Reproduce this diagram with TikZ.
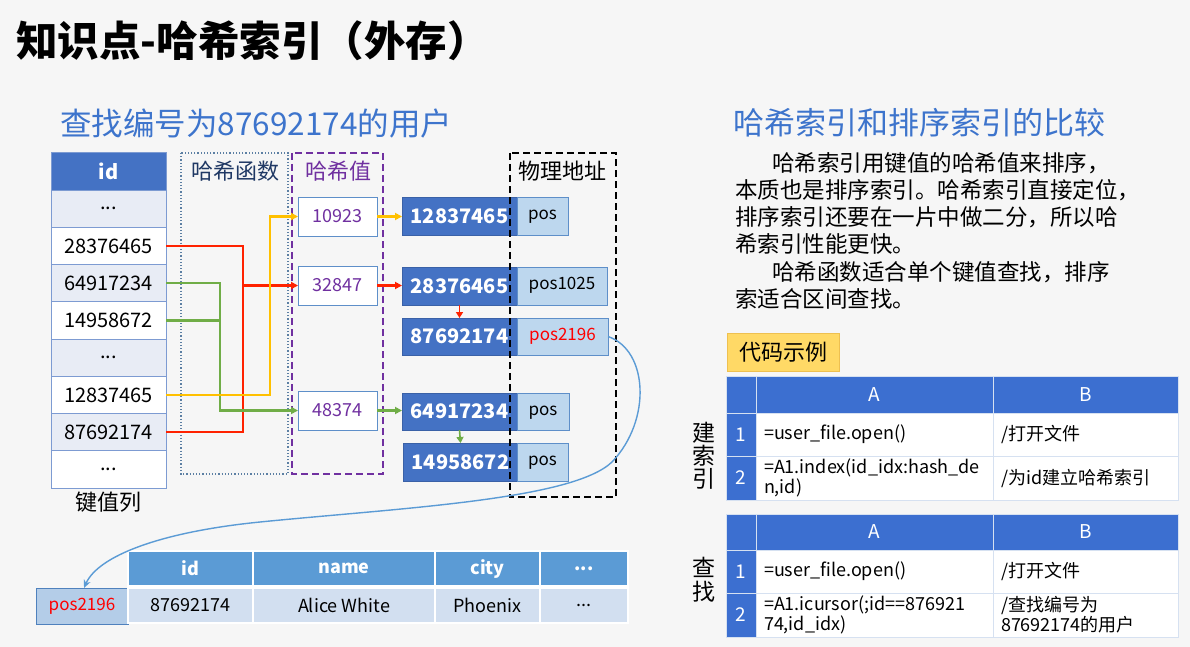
\documentclass[tikz,border=0pt]{standalone}
\usepackage{fontspec}
\setmainfont{Noto Sans CJK SC}
\usetikzlibrary{arrows.meta}
\definecolor{dblue}{HTML}{4472C4}
\definecolor{tblue}{HTML}{3C6FD0}
\definecolor{lrow}{HTML}{E8ECF5}
\definecolor{tbord}{HTML}{7D9BD2}
\definecolor{posf}{HTML}{BDD7EE}
\definecolor{posd}{HTML}{5E8FC9}
\definecolor{hdr}{HTML}{5B9BD5}
\definecolor{drow}{HTML}{D2DFF0}
\definecolor{purp}{HTML}{7030A0}
\definecolor{rline}{HTML}{FF2200}
\definecolor{gline}{HTML}{70AD47}
\definecolor{yline}{HTML}{FFC000}
\definecolor{subblue}{HTML}{3D74CC}
\definecolor{hfbord}{HTML}{5C7FA3}
\definecolor{hfnavy}{HTML}{1F3864}
\definecolor{gold}{HTML}{FFD966}
\definecolor{goldd}{HTML}{EEC050}
\definecolor{cellb}{HTML}{D6E1F1}
\definecolor{bg}{HTML}{F6F6F6}
\definecolor{curvec}{HTML}{5B9BD5}
\definecolor{bpos}{HTML}{B4CDE8}
\definecolor{bposd}{HTML}{4F81BD}
\newcommand\myfs[1]{\fontsize{#1}{#1}\selectfont}
\tikzset{
  box/.style={anchor=north west, inner sep=0pt, outer sep=0pt},
  idc/.style={box, draw=tbord, line width=1pt, minimum width=115pt, minimum height=37.25pt, font=\myfs{20}},
  idl/.style={idc, fill=lrow},
  idw/.style={idc, fill=white},
  hval/.style={box, draw=posd, fill=white, line width=1pt, minimum width=79pt, minimum height=39pt, text=purp, font=\myfs{18}},
  bb/.style={box, fill=dblue, draw=dblue!85!black, line width=0.8pt, minimum width=115pt, minimum height=38pt, text=white, font=\bfseries\myfs{20}},
  pb/.style={box, fill=posf, draw=posd, line width=1pt, minimum height=38pt, font=\myfs{17}, text height=0.85em, text depth=0.15em},
  ln/.style={line width=2.5pt},
  arr/.style={line width=2.5pt, -{Triangle[length=7pt,width=7pt]}},
  sarr/.style={line width=1.6pt, -{Triangle[length=6pt,width=7pt]}},
  th/.style={box, fill=tblue, draw=cellb, line width=1pt, text=white, font=\myfs{19}},
  td/.style={box, fill=white, draw=cellb, line width=1pt, font=\myfs{18}, inner xsep=8pt, align=left, text width=#1},
  bh/.style={box, fill=hdr, draw=white, line width=1.5pt, text=white, font=\bfseries\myfs{18}, minimum height=35pt},
  bd/.style={box, fill=drow, draw=white, line width=1.5pt, font=\myfs{18}, minimum height=35pt},
  para/.style={anchor=west, inner sep=0pt, font=\myfs{22.5}},
}
\begin{document}
\begin{tikzpicture}[x=1pt,y=-1pt]
\fill[bg] (0,0) rectangle (1190,647);
\useasboundingbox (0,0) rectangle (1190,647);

% titles
\node[anchor=west, inner sep=0pt, font=\bfseries\myfs{41.5}] (title) at (16,41) {知识点-哈希索引（外存）};
\node[anchor=west, inner sep=0pt, font=\myfs{31.5}, text=subblue] (sub) at (60,124) {查找编号为87692174的用户};
\node[anchor=west, inner sep=0pt, font=\myfs{31}, text=subblue] (rhead) at (733,123) {哈希索引和排序索引的比较};

% grouping boxes
\draw[hfbord, line width=1.2pt, dotted] (181,153) rectangle (288,474);
\draw[purp, line width=1.6pt, dash pattern=on 7pt off 4pt] (292,153) rectangle (383,474);
\node[font=\myfs{22}, text=hfnavy] (hflab) at (235,171) {哈希函数};
\node[font=\myfs{22}, text=purp] (hvlab) at (338,171) {哈希值};

% key column
\node[idc, fill=dblue, draw=tbord, text=white, font=\bfseries\myfs{20}] (idh) at (51,153) {id};
\node[idl] (r1) at (51,190) {...};
\node[idw] (r2) at (51,227.25) {28376465};
\node[idl] (r3) at (51,264.5) {64917234};
\node[idw] (r4) at (51,301.75) {14958672};
\node[idl] (r5) at (51,339) {...};
\node[idw] (r6) at (51,376.25) {12837465};
\node[idl] (r7) at (51,413.5) {87692174};
\node[idw] (r8) at (51,450.75) {...};
\node[font=\myfs{22}] (kcol) at (108,502) {键值列};

% hash values
\node[hval] (hv1) at (298,197) {10923};
\node[hval] (hv2) at (298,266) {32847};
\node[hval] (hv3) at (298,391) {48374};

% blue keys and positions
\node[bb] (bb1) at (402,197) {12837465};
\node[pb, minimum width=51pt] (pb1) at (517,197) {pos};
\node[bb] (bb2) at (402,267) {28376465};
\node[pb, minimum width=90pt] (pb2) at (517,267) {pos1025};
\node[bb, minimum height=37pt] (bb3) at (402,318) {87692174};
\node[pb, minimum width=91pt, minimum height=37pt, text=red] (pb3) at (517,318) {pos2196};
\node[bb, minimum height=37pt] (bb4) at (402,393) {64917234};
\node[pb, minimum width=52pt, minimum height=37pt] (pb4) at (517,393) {pos};
\node[bb] (bb5) at (403,443) {14958672};
\node[pb, minimum width=51pt] (pb5) at (517,443) {pos};

\draw[black, line width=1.6pt, dash pattern=on 7pt off 4pt] (510,153) rectangle (616,497);
\node[font=\myfs{22}] (phlab) at (562,171) {物理地址};

% connectors key -> hash
\draw[ln, rline] (r2.east) -| ([xshift=-55pt]hv2.west);
\draw[ln, rline] (r7.east) -| ([xshift=-55pt]hv2.west);
\draw[arr, rline] ([xshift=-56pt]hv2.west) -- (hv2.west);
\draw[ln, gline] (r3.east) -| ([xshift=-78pt]hv3.west);
\draw[ln, gline] (r4.east) -| ([xshift=-78pt]hv3.west);
\draw[arr, gline] ([xshift=-79pt]hv3.west) -- (hv3.west);
\draw[ln, yline] (r6.east) -| ([xshift=-28pt]hv1.west);
\draw[arr, yline] ([xshift=-29pt]hv1.west) -- (hv1.west);

% hash -> keys
\draw[arr, yline] (hv1.east) -- (hv1.east -| bb1.west);
\draw[arr, rline] (hv2.east) -- (hv2.east -| bb2.west);
\draw[arr, gline] (hv3.east) -- (hv3.east -| bb4.west);
\draw[sarr, rline] (bb2.south) -- (bb3.north);
\draw[sarr, gline] (bb4.south) -- (bb5.north);

% bottom record table
\node[box, fill=bpos, draw=bposd, line width=1pt, minimum width=92pt, minimum height=36pt, text=red, font=\myfs{17}] (bpos) at (36,588) {pos2196};
\node[bh, minimum width=125pt] (h1) at (128,551) {id};
\node[bh, minimum width=182pt] (h2) at (253,551) {name};
\node[bh, minimum width=105pt] (h3) at (435,551) {city};
\node[bh, minimum width=88pt] (h4) at (540,551) {...};
\node[bd, minimum width=125pt] (d1) at (128,588) {87692174};
\node[bd, minimum width=182pt] (d2) at (253,588) {Alice White};
\node[bd, minimum width=105pt] (d3) at (435,588) {Phoenix};
\node[bd, minimum width=88pt] (d4) at (540,588) {...};

\draw[curvec, line width=1.4pt, -{Stealth[length=8pt,width=7pt]}] (pb3.east) .. controls (648,350) and (652,420) .. (612,462) .. controls (572,500) and (400,508) .. (260,522) .. controls (160,532) and (98,556) .. (bpos.north -| 84,0);

% paragraph
\node[para] (p1) at (772,163) {哈希索引用键值的哈希值来排序，};
\node[para] (p2) at (735,190) {本质也是排序索引。哈希索引直接定位，};
\node[para] (p3) at (735,217) {排序索引还要在一片中做二分，所以哈};
\node[para] (p4) at (735,244) {希索引性能更快。};
\node[para] (p5) at (772,272) {哈希函数适合单个键值查找，排序};
\node[para] (p6) at (735,299) {索适合区间查找。};

% code example
\node[box, fill=gold, draw=goldd, line width=1pt, minimum width=112pt, minimum height=38pt, font=\myfs{22}] (code) at (727,333) {代码示例};

% table 1
\node[th, minimum width=30pt, minimum height=37pt] (t1c) at (726,376) {};
\node[th, minimum width=237pt, minimum height=37pt] (t1a) at (756,376) {A};
\node[th, minimum width=185pt, minimum height=37pt] (t1b) at (993,376) {B};
\node[th, minimum width=30pt, minimum height=43pt] (t1n1) at (726,413) {1};
\node[td=221pt, minimum height=43pt] (t1a1) at (756,413) {=user\_file.open()};
\node[td=169pt, minimum height=43pt] (t1b1) at (993,413) {/打开文件};
\node[th, minimum width=30pt, minimum height=44pt] (t1n2) at (726,456) {2};
\node[td=221pt, minimum height=44pt, font=\fontsize{18}{20}\selectfont] (t1a2) at (756,456) {=A1.index(id\_idx:hash\_de\\n,id)};
\node[td=169pt, minimum height=44pt] (t1b2) at (993,456) {/为id建立哈希索引};
\node[font=\fontsize{23}{23}\selectfont, align=center] (lab1) at (704,456) {建\\索\\引};

% table 2
\node[th, minimum width=30pt, minimum height=36pt] (t2c) at (726,514) {};
\node[th, minimum width=237pt, minimum height=36pt] (t2a) at (756,514) {A};
\node[th, minimum width=185pt, minimum height=36pt] (t2b) at (993,514) {B};
\node[th, minimum width=30pt, minimum height=43pt] (t2n1) at (726,550) {1};
\node[td=221pt, minimum height=43pt] (t2a1) at (756,550) {=user\_file.open()};
\node[td=169pt, minimum height=43pt] (t2b1) at (993,550) {/打开文件};
\node[th, minimum width=30pt, minimum height=44pt] (t2n2) at (726,593) {2};
\node[td=221pt, minimum height=44pt, font=\fontsize{18}{20}\selectfont] (t2a2) at (756,593) {=A1.icursor(;id==876921\\74,id\_idx)};
\node[td=169pt, minimum height=44pt, font=\fontsize{18}{20}\selectfont] (t2b2) at (993,593) {/查找编号为\\87692174的用户};
\node[font=\fontsize{23}{24}\selectfont, align=center] (lab2) at (704,580) {查\\找};
\end{tikzpicture}
\end{document}
